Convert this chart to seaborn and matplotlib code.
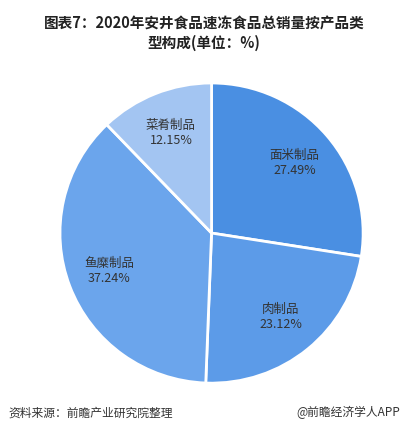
import matplotlib
matplotlib.use("Agg")
import matplotlib.pyplot as plt
import seaborn as sns

sns.set_theme(style="white")
plt.rcParams['font.family'] = ['Noto Sans CJK SC', 'DejaVu Sans']

categories = ["面米制品", "肉制品", "鱼糜制品", "菜肴制品"]
values = [27.49, 23.12, 37.24, 12.15]
colors = ["#4a8fe2", "#5c9be8", "#6ba5ec", "#a3c5f2"]

fig = plt.figure(figsize=(4.08, 4.30), dpi=100)
ax = fig.add_axes([0.147, 0.109, 0.743, 0.698])
labels = [f"{c}\n{v:.2f}%" for c, v in zip(categories, values)]
ax.pie(values, labels=labels, colors=colors, startangle=90, counterclock=False,
       labeldistance=0.72, wedgeprops=dict(edgecolor="white", linewidth=2),
       textprops=dict(fontsize=9, color="#333333", ha="center", va="center"))
ax.set_aspect("auto")
ax.set_xlim(-1.0, 1.0)
ax.set_ylim(-1.0, 1.0)

fig.text(0.5, 0.965, "图表7：2020年安井食品速冻食品总销量按产品类\n型构成(单位：%)",
         ha="center", va="top", fontsize=10.5, fontweight="bold", color="#222222",
         linespacing=1.3)
fig.text(0.02, 0.025, "资料来源：前瞻产业研究院整理", ha="left", va="bottom",
         fontsize=8.5, color="#333333")
fig.text(0.98, 0.025, "@前瞻经济学人APP", ha="right", va="bottom",
         fontsize=8.5, color="#333333")
fig.savefig("out.png", dpi=100)
